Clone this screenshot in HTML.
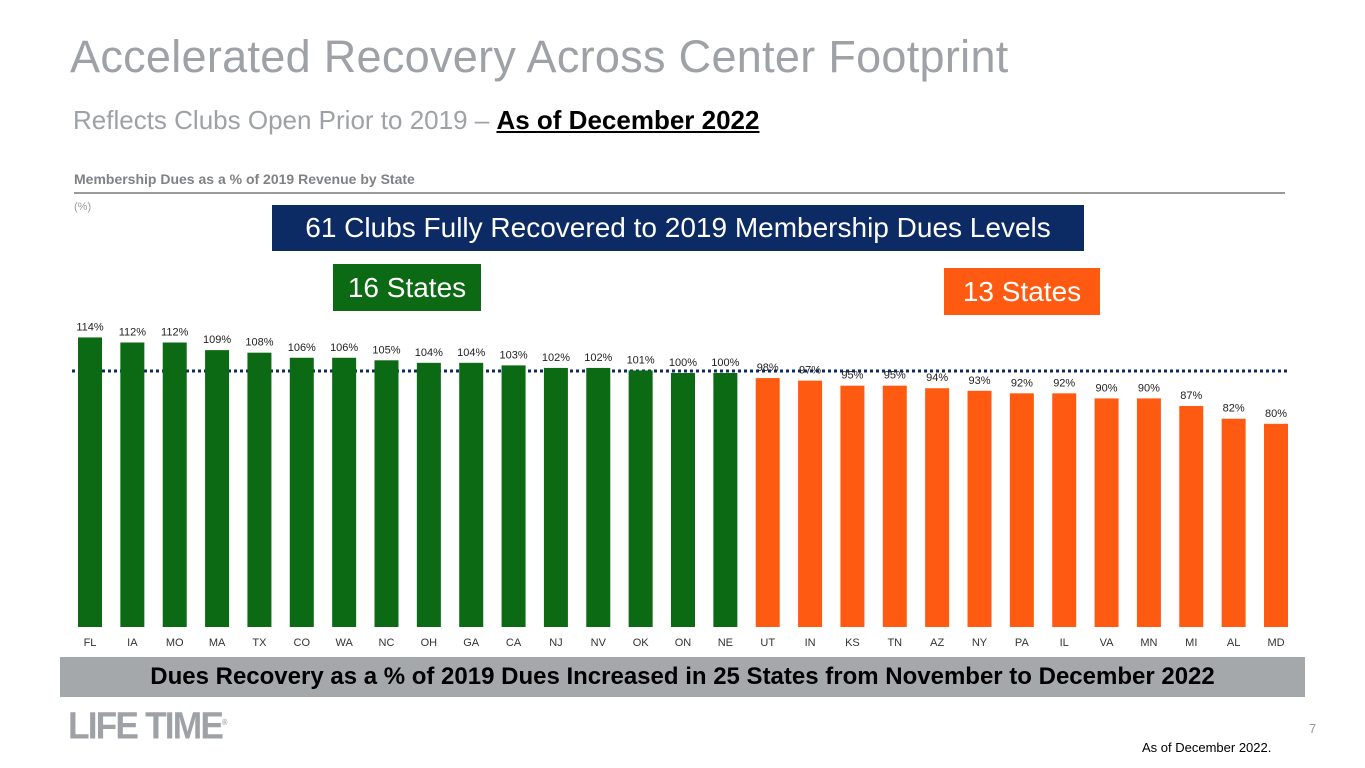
<!DOCTYPE html>
<html><head><meta charset="utf-8"><style>
body{margin:0;width:1365px;height:768px;background:#fff;overflow:hidden;position:relative;font-family:"Liberation Sans",sans-serif}
.abs{position:absolute}
</style></head><body>
<div class="abs" style="left:70px;top:31px;font-size:45px;letter-spacing:0.3px;color:#9ea2a6;white-space:nowrap">Accelerated Recovery Across Center Footprint</div>
<div class="abs" style="left:73px;top:105px;font-size:26px;color:#9ea2a6;white-space:nowrap">Reflects Clubs Open Prior to 2019 – <span style="color:#000;font-weight:bold;text-decoration:underline">As of December 2022</span></div>
<div class="abs" style="left:74px;top:171px;font-size:14px;font-weight:bold;color:#7f8285">Membership Dues as a % of 2019 Revenue by State</div>
<div class="abs" style="left:74px;top:192px;width:1211px;height:2px;background:#9a9a9a"></div>
<div class="abs" style="left:74px;top:201px;font-size:11px;color:#9a9a9a">(%)</div>
<div class="abs" style="left:272px;top:205px;width:812px;height:46px;background:#0c2a63;color:#fff;font-size:28px;line-height:46px;text-align:center">61 Clubs Fully Recovered to 2019 Membership Dues Levels</div>
<div class="abs" style="left:333px;top:264px;width:148px;height:47px;background:#0b6a13;color:#fff;font-size:28px;line-height:47px;text-align:center">16 States</div>
<div class="abs" style="left:944px;top:268px;width:156px;height:47px;background:#ff5a12;color:#fff;font-size:28px;line-height:47px;text-align:center">13 States</div>
<svg class="abs" style="left:0;top:0" width="1365" height="768" id="chart"></svg>
<div class="abs" style="left:60px;top:657px;width:1245px;height:40px;background:#a5a8ab;color:#000;font-size:24px;font-weight:bold;line-height:40px;text-align:center">Dues Recovery as a % of 2019 Dues Increased in 25 States from November to December 2022</div>
<div class="abs" style="left:68px;top:703px;font-size:38px;font-weight:bold;color:#9ea2a6;letter-spacing:-2px;transform:scaleX(0.93);transform-origin:left;line-height:40px">LIFE TIME<sup style="font-size:8px">®</sup></div>
<div class="abs" style="left:1309px;top:721px;font-size:13px;color:#9a9a9a">7</div>
<div class="abs" style="left:1142px;top:740px;font-size:13px;color:#000">As of December 2022.</div>
<script>
const states=["FL","IA","MO","MA","TX","CO","WA","NC","OH","GA","CA","NJ","NV","OK","ON","NE","UT","IN","KS","TN","AZ","NY","PA","IL","VA","MN","MI","AL","MD"];
const values=[114,112,112,109,108,106,106,105,104,104,103,102,102,101,100,100,98,97,95,95,94,93,92,92,90,90,87,82,80];
const recovered=[1,1,1,1,1,1,1,1,1,1,1,1,1,1,1,1,0,0,0,0,0,0,0,0,0,0,0,0,0];
const svg=document.getElementById('chart');
const NS='http://www.w3.org/2000/svg';
const base=627, k=2.54;
function y(v){return base-v*k;}
function x(i){return 90+i*(1276-90)/(states.length-1);}
function mk(t,a){const e=document.createElementNS(NS,t);for(const n in a)e.setAttribute(n,a[n]);svg.appendChild(e);return e;}
const ln=mk('line',{x1:72,x2:1290,y1:y(100)-2,y2:y(100)-2,stroke:'#0c2a63','stroke-width':3,'stroke-dasharray':'3,3'});


states.forEach((s,i)=>{
  const r=mk('rect',{x:x(i)-12,y:y(values[i]),width:24,height:values[i]*k,fill:recovered[i]?'#0b6a13':'#ff5a12'});
  
  
  const t=mk('text',{x:x(i),y:y(values[i])-7,'text-anchor':'middle','font-size':11,fill:'#222','font-family':'Liberation Sans'});
  t.textContent=values[i]+'%';
  
  
  const l=mk('text',{x:x(i),y:646,'text-anchor':'middle','font-size':11,fill:'#333','font-family':'Liberation Sans'});
  l.textContent=s;
  
  
});
</script>
</body></html>
